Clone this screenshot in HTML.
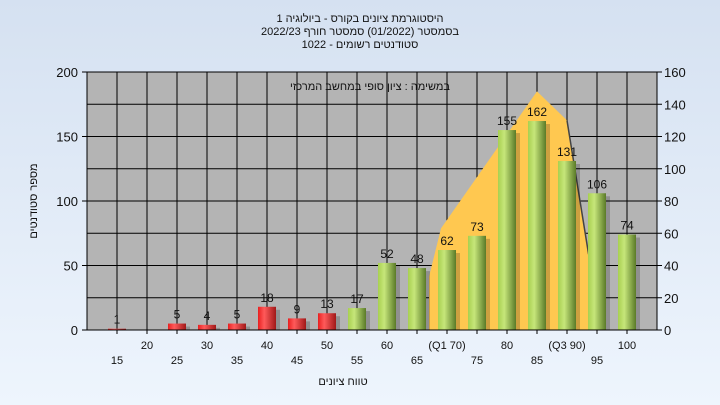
<!DOCTYPE html>
<html><head><meta charset="utf-8"><style>
body{margin:0;width:720px;height:405px;overflow:hidden;background:linear-gradient(#d5e1f1,#eef5fd);font-family:"Liberation Sans",sans-serif;}
svg{position:absolute;left:0;top:0}
text{font-family:"Liberation Sans","DejaVu Sans",sans-serif;fill:#111}
</style></head><body>
<svg width="720" height="405">
<defs>
<linearGradient id="gr" x1="0" x2="1"><stop offset="0" stop-color="#a8d050"/><stop offset="0.35" stop-color="#c6e67a"/><stop offset="1" stop-color="#5a7a28"/></linearGradient>
<linearGradient id="rd" x1="0" x2="1"><stop offset="0" stop-color="#e82020"/><stop offset="0.35" stop-color="#ff5a5a"/><stop offset="1" stop-color="#a01818"/></linearGradient>
</defs>
<g font-size="11" text-anchor="middle">
<text x="360" y="22">היסטוגרמת ציונים בקורס - ביולוגיה 1</text>
<text x="360" y="35">בסמסטר (01/2022) סמסטר חורף 2022/23</text>
<text x="360" y="48">סטודנטים רשומים - 1022</text>
</g>
<rect x="87" y="72" width="570" height="258" fill="#b4b4b4"/>
<g id="grid"></g>
<g id="curve"></g>
<g id="bars"></g>
<g id="axes"></g>
<text x="370" y="90" font-size="11" text-anchor="middle">במשימה : ציון סופי במחשב המרכזי</text>
<text transform="translate(37,201) rotate(-90)" font-size="11" text-anchor="middle">מספר סטודנטים</text>
<text x="343" y="385" font-size="11" text-anchor="middle">טווח ציונים</text>
</svg>
<script>
const categories=[15,20,25,30,35,40,45,50,55,60,65,70,75,80,85,90,95,100];
const counts=[1,0,5,4,5,18,9,13,17,52,48,62,73,155,162,131,106,74];
const xLabels=["15","20","25","30","35","40","45","50","55","60","65","(Q1 70)","75","80","85","(Q3 90)","95","100"];
const leftTicks=[0,50,100,150,200];
const rightTicks=[0,20,40,60,80,100,120,140,160];
const curveX=[67,67,69,85,90,93.6,93.6];
const curveY=[0,33,63,148,130,47,0];
const NS="http://www.w3.org/2000/svg";
const X0=87,XR=657,Y0=330,YT=72;
const xs=v=>X0+(v-10)*6;
const yl=v=>Y0-v*(Y0-YT)/200;
const yr=v=>Y0-v*(Y0-YT)/160;
function mk(t,a,p){const e=document.createElementNS(NS,t);for(const k in a)e.setAttribute(k,a[k]);p.appendChild(e);return e;}
const grid=document.getElementById('grid');
for(let v=10;v<=105;v+=5){const l=mk('line',{x1:xs(v),x2:xs(v),y1:YT,y2:Y0,stroke:'#000','stroke-width':1},grid);

}
rightTicks.forEach(t=>{const l=mk('line',{x1:X0,x2:XR,y1:yr(t),y2:yr(t),stroke:'#000','stroke-width':1},grid);

});
const cv=document.getElementById('curve');
const pts=curveX.map((c,i)=>xs(c)+','+yr(curveY[i])).join(' ');
const poly=mk('polygon',{points:pts,fill:'#ffc850',stroke:'none'},cv);


const edge=mk('line',{x1:xs(curveX[4]),y1:yr(curveY[4]),x2:xs(curveX[5]),y2:yr(curveY[5]),stroke:'#444','stroke-width':1.5},cv);


const bars=document.getElementById('bars');
categories.forEach((c,i)=>{const v=counts[i];if(v<=0)return;const x=xs(c)-9;const y=yl(v);const h=Y0-y;
const s=mk('rect',{x:x+4,y:y+3,width:18,height:h-3,fill:'rgba(0,0,0,0.2)'},bars);


const r=mk('rect',{x:x,y:y,width:18,height:Math.max(h,1.5),fill:c<55?'url(#rd)':'url(#gr)'},bars);


const t=mk('text',{x:xs(c),y:y-5,'font-size':12,'text-anchor':'middle'},bars);t.textContent=v;

});
const ax=document.getElementById('axes');
mk('line',{x1:X0-5,x2:XR+5,y1:Y0,y2:Y0,stroke:'#000'},ax);
leftTicks.forEach(t=>{mk('line',{x1:X0-5,x2:X0,y1:yl(t),y2:yl(t),stroke:'#000'},ax);
const e=mk('text',{x:X0-9,y:yl(t)+5,'font-size':13,'text-anchor':'end'},ax);e.textContent=t;

});
rightTicks.forEach(t=>{mk('line',{x1:XR,x2:XR+5,y1:yr(t),y2:yr(t),stroke:'#000'},ax);
const e=mk('text',{x:XR+7,y:yr(t)+5,'font-size':13},ax);e.textContent=t;

});
categories.forEach((c,i)=>{mk('line',{x1:xs(c),x2:xs(c),y1:Y0,y2:Y0+4,stroke:'#000'},ax);
const odd=i%2===0;const e=mk('text',{x:xs(c),y:odd?Y0+34:Y0+19,'font-size':11,'text-anchor':'middle'},ax);e.textContent=xLabels[i];

});
</script>
</body></html>
